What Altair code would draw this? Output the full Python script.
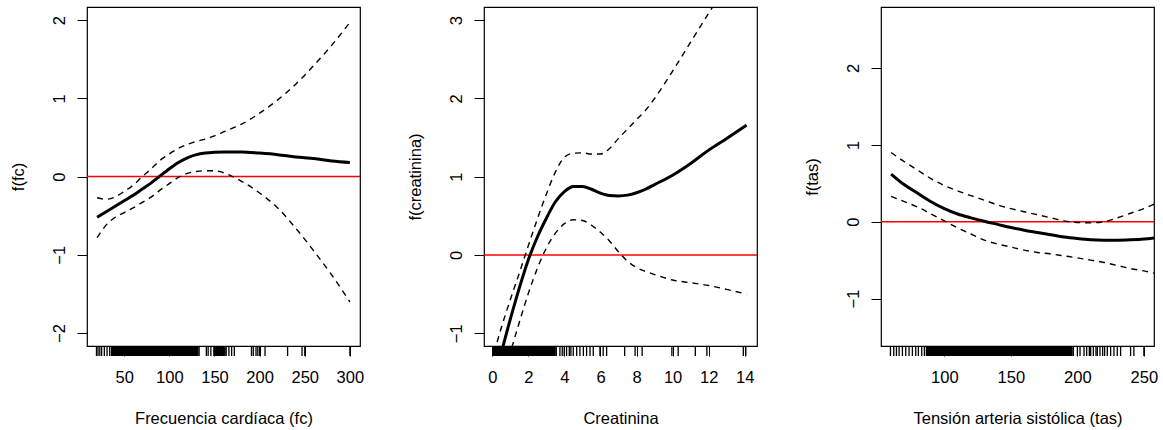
import altair as alt
import pandas as pd

FONT = "Liberation Sans"
FS = 16.5

# ---------------- Panel 1: Frecuencia cardíaca (fc) ----------------
fc_x = [20, 30, 40, 50, 60, 70, 80, 90, 100, 110, 120, 130, 140, 150, 160, 170, 180, 200, 220, 240, 260, 280, 300]
fc_fit = [-0.52, -0.45, -0.38, -0.31, -0.24, -0.16, -0.08, 0.01, 0.10, 0.18, 0.24, 0.28, 0.30, 0.31, 0.315, 0.315,
          0.315, 0.30, 0.28, 0.25, 0.23, 0.20, 0.18]
fc_upper = [-0.27, -0.29, -0.26, -0.19, -0.11, 0.0, 0.10, 0.21, 0.29, 0.36, 0.41, 0.45, 0.48, 0.52, 0.57, 0.62,
            0.67, 0.81, 0.98, 1.18, 1.42, 1.68, 1.97]
fc_lower = [-0.78, -0.62, -0.52, -0.46, -0.40, -0.33, -0.26, -0.17, -0.09, -0.01, 0.04, 0.065, 0.075, 0.075, 0.05,
            0.0, -0.06, -0.21, -0.40, -0.66, -0.95, -1.26, -1.60]
# rug: dense block of observations and isolated observations
fc_rug_dense = [39, 40, 41, 42, 43, 44, 45, 46, 47, 48, 49, 50, 51, 52, 53, 54, 55, 56, 57, 58, 59, 60,
                61, 62, 63, 64, 65, 66, 67, 68, 69, 70, 71, 72, 73, 74, 75, 76, 77, 78, 79, 80,
                81, 82, 83, 84, 85, 86, 87, 88, 89, 90, 91, 92, 93, 94, 95, 96, 97, 98, 99, 100,
                101, 102, 103, 104, 105, 106, 107, 108, 109, 110, 111, 112, 113, 114, 115, 116, 117, 118, 119, 120,
                121, 122, 123, 124, 125, 126, 127, 128, 129, 130, 131, 150, 151, 152, 153, 154, 155, 156, 157,
                158, 159, 160, 161]
fc_rug_sparse = [19.3, 21, 23, 25, 28, 31, 34, 36, 37, 133, 141, 143, 146, 163, 166, 169, 172,
                 191, 193, 196, 198, 200, 206, 231, 247, 250, 300]
fc_xticks = [50, 100, 150, 200, 250, 300]
fc_yticks = [-2, -1, 0, 1, 2]

# ---------------- Panel 2: Creatinina ----------------
cr_x = [0.1, 0.5, 1.0, 1.5, 2.0, 2.5, 3.0, 3.5, 4.0, 4.5, 5.0, 5.5, 6.0, 6.5, 7.0, 7.5, 8.0, 8.5, 9.0,
        10.0, 11.0, 12.0, 13.0, 14.1]
cr_fit = [-1.62, -1.25, -0.82, -0.42, -0.06, 0.23, 0.47, 0.68, 0.81, 0.875, 0.875, 0.84, 0.79, 0.76, 0.755,
          0.765, 0.795, 0.84, 0.90, 1.02, 1.17, 1.34, 1.49, 1.66]
cr_upper = [-1.25, -0.93, -0.57, -0.23, 0.12, 0.46, 0.78, 1.06, 1.25, 1.30, 1.305, 1.29, 1.29, 1.36, 1.49,
            1.61, 1.73, 1.85, 2.0, 2.35, 2.72, 3.09, 3.45, 3.85]
cr_lower = [-2.0, -1.66, -1.25, -0.86, -0.49, -0.17, 0.09, 0.28, 0.40, 0.45, 0.44, 0.38, 0.29, 0.18, 0.04,
            -0.08, -0.16, -0.21, -0.25, -0.32, -0.355, -0.39, -0.44, -0.50]
cr_rug_dense = [0.1, 0.2, 0.3, 0.4, 0.5, 0.6, 0.7, 0.8, 0.9, 1.0, 1.1, 1.2, 1.3, 1.4, 1.5, 1.6, 1.7, 1.8,
                1.9, 2.0, 2.1, 2.2, 2.3, 2.4, 2.5, 2.6, 2.7, 2.8, 2.9, 3.0, 3.1, 3.2, 3.3, 3.4, 3.45]
cr_rug_sparse = [3.55, 3.75, 3.88, 3.99, 4.12, 4.27, 4.36, 4.49, 4.68, 4.86, 5.05, 5.23, 5.42, 5.6,
                 5.97, 6.15, 6.34, 7.34, 7.92, 8.31, 9.96, 10.31, 11.26, 11.9, 13.92, 14.06]
cr_xticks = [0, 2, 4, 6, 8, 10, 12, 14]
cr_yticks = [-1, 0, 1, 2, 3]

# ---------------- Panel 3: Tensión arteria sistólica (tas) ----------------
ta_x = [60, 70, 80, 90, 100, 110, 120, 130, 140, 150, 160, 170, 180, 190, 200, 210, 220, 230, 240, 250, 258]
ta_fit = [0.62, 0.48, 0.37, 0.26, 0.17, 0.10, 0.05, 0.005, -0.035, -0.075, -0.11, -0.14, -0.17, -0.20, -0.22,
          -0.235, -0.24, -0.24, -0.235, -0.225, -0.21]
ta_upper = [0.90, 0.78, 0.67, 0.56, 0.47, 0.40, 0.34, 0.28, 0.22, 0.17, 0.13, 0.09, 0.05, 0.01, -0.01, -0.015,
            0.0, 0.05, 0.11, 0.17, 0.23]
ta_lower = [0.33, 0.26, 0.19, 0.10, 0.01, -0.08, -0.16, -0.24, -0.29, -0.33, -0.37, -0.40, -0.42, -0.445, -0.47,
            -0.50, -0.53, -0.57, -0.61, -0.64, -0.67]
ta_rug_dense = [87, 88, 89, 90, 91, 92, 93, 94, 95, 96, 97, 98, 99, 100,
                101, 102, 103, 104, 105, 106, 107, 108, 109, 110, 111, 112, 113, 114, 115, 116, 117, 118, 119, 120,
                121, 122, 123, 124, 125, 126, 127, 128, 129, 130, 131, 132, 133, 134, 135, 136, 137, 138, 139, 140,
                141, 142, 143, 144, 145, 146, 147, 148, 149, 150, 151, 152, 153, 154, 155, 156, 157, 158, 159, 160,
                161, 162, 163, 164, 165, 166, 167, 168, 169, 170, 171, 172, 173, 174, 175, 176, 177, 178, 179, 180,
                181, 182, 183, 184, 185, 186, 187, 188, 189, 190, 191, 192, 193, 194, 195]
ta_rug_sparse = [59.5, 62, 64, 66, 68.5, 71, 73.5, 76, 78.5, 80.5, 83, 85,
                 196, 197, 200, 202, 205, 207, 209, 210, 212, 214, 215, 217, 219, 220.5, 222.5, 225, 227.5, 230,
                 232.5, 240, 242.5, 250]
ta_xticks = [100, 150, 200, 250]
ta_yticks = [-1, 0, 1, 2]

W = 273
H = 339


def panel(xs, fit, up, lo, rug_dense, rug_sparse, xdom, ydom, xticks, yticks, xtitle, ytitle):
    df = pd.DataFrame({"x": xs, "fit": fit, "upper": up, "lower": lo})
    xscale = alt.Scale(domain=xdom, nice=False, zero=False)
    yscale = alt.Scale(domain=ydom, nice=False, zero=False)
    xaxis = alt.Axis(values=xticks, title=xtitle, grid=False, domain=False, tickSize=10,
                     labelPadding=26, labelBaseline="alphabetic", labelFlush=False, labelOverlap=False,
                     titleY=77, titleBaseline="alphabetic", titleAlign="center", titleX=W / 2)
    yaxis = alt.Axis(values=yticks, title=ytitle, grid=False, domain=False, tickSize=10,
                     labelAngle=270, labelAlign="center", labelBaseline="alphabetic", labelPadding=13,
                     labelFlush=False, labelOverlap=False,
                     titleAngle=270, titleX=-64, titleY=H / 2, titleAlign="center",
                     titleBaseline="alphabetic")
    X = alt.X("x:Q", scale=xscale, axis=xaxis)
    base = alt.Chart(df)
    fit_line = base.mark_line(color="black", strokeWidth=3, clip=True, interpolate="monotone").encode(
        x=X, y=alt.Y("fit:Q", scale=yscale, axis=yaxis))
    upper = base.mark_line(color="black", strokeWidth=1.4, strokeDash=[6, 5], clip=True,
                           interpolate="monotone").encode(
        x=X, y=alt.Y("upper:Q", scale=yscale, axis=yaxis))
    lower = base.mark_line(color="black", strokeWidth=1.4, strokeDash=[6, 5], clip=True,
                           interpolate="monotone").encode(
        x=X, y=alt.Y("lower:Q", scale=yscale, axis=yaxis))
    zero = alt.Chart(pd.DataFrame({"z": [0]})).mark_rule(color="#ff0000", strokeWidth=1.5).encode(
        y=alt.Y("z:Q", scale=yscale, axis=yaxis))
    rug_d = alt.Chart(pd.DataFrame({"x": rug_dense})).mark_rule(color="black", strokeWidth=2.6).encode(
        x=X, y=alt.value(H), y2=alt.value(H + 10))
    rug_s = alt.Chart(pd.DataFrame({"x": rug_sparse})).mark_rule(color="black", strokeWidth=1.3).encode(
        x=X, y=alt.value(H), y2=alt.value(H + 10))
    return alt.layer(zero, lower, upper, fit_line, rug_d, rug_s).properties(width=W, height=H)


p1 = panel(fc_x, fc_fit, fc_upper, fc_lower, fc_rug_dense, fc_rug_sparse, [8.8, 311.2], [-2.165, 2.167],
           fc_xticks, fc_yticks, "Frecuencia cardíaca (fc)", "f(fc)")
p2 = panel(cr_x, cr_fit, cr_upper, cr_lower, cr_rug_dense, cr_rug_sparse, [-0.46, 14.68], [-1.163, 3.169],
           cr_xticks, cr_yticks, "Creatinina", "f(creatinina)")
p3 = panel(ta_x, ta_fit, ta_upper, ta_lower, ta_rug_dense, ta_rug_sparse, [52.4, 257.6], [-1.617, 2.793],
           ta_xticks, ta_yticks, "Tensión arteria sistólica (tas)", "f(tas)")

chart = alt.hconcat(p1, p2, p3, spacing=124, bounds="flush").properties(
    padding={"left": 9, "top": 6, "right": 0, "bottom": 0},
    background="white",
).configure_view(stroke="black", strokeWidth=1.2).configure_axis(
    labelFont=FONT, labelFontSize=FS, labelColor="black",
    titleFont=FONT, titleFontSize=FS, titleFontWeight="normal", titleColor="black",
    tickColor="black", tickWidth=1,
)

chart.save("out.html", embed_options={"renderer": "svg", "actions": False})
